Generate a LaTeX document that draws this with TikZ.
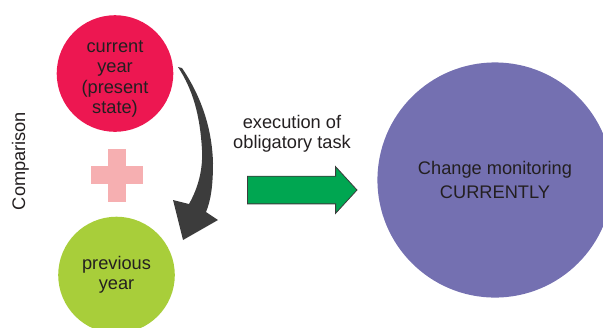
\documentclass[tikz,border=0pt]{standalone}
\usepackage{fontspec}
\setmainfont{Liberation Sans}
\usetikzlibrary{shapes.arrows}
\definecolor{curred}{HTML}{ED1751}
\definecolor{prevgreen}{HTML}{A8CE3A}
\definecolor{monviolet}{HTML}{7470B1}
\definecolor{crosspink}{HTML}{F6AFB1}
\definecolor{taskgreen}{HTML}{00A651}
\definecolor{darkgrey}{HTML}{3C3C3C}
\definecolor{txtgrey}{HTML}{231F20}
\tikzset{
	ball/.style={circle, inner sep=0pt},
	txt/.style={align=center, text=txtgrey, font=\fontsize{18.3}{20.5}\selectfont},
}

\begin{document}
\begin{tikzpicture}[x=1bp, y=-1bp]
		%%%%% START %%%%%
		\useasboundingbox (0, 0) rectangle (603, 327);
		\clip (0, 0) rectangle (603, 327);
		
		\node[ball, fill=curred, minimum size=117] (cur) at (115, 73.5) {};
		\node[txt] (curtxt) at (115, 79) {current\\year\\(present\\state)};
		
		\node[ball, fill=prevgreen, minimum size=117, txt] (prev) at (116.5, 275) {previous\\year};
		
		\node[ball, fill=monviolet, minimum size=236, txt, font=\fontsize{18.3}{25}\selectfont] (mon) at (495, 180) {Change monitoring\\CURRENTLY};
		
		\node[txt, rotate=90] (cmp) at (20.5, 161) {Comparison};
		
		% plus sign between the two years
		\fill[crosspink] (108, 149) rectangle (126, 202);
		\fill[crosspink] (91, 166) rectangle (143, 184);
		
		% curved arrow from current to previous year
		\fill[darkgrey] (178, 67) -- (182, 68)
			.. controls (199, 93) and (212, 125) .. (213, 163)
			.. controls (213, 185) and (211, 200) .. (206, 212)
			-- (218, 220) -- (183, 240) -- (173, 200) -- (189, 204)
			.. controls (198, 188) and (203, 170) .. (202, 150)
			.. controls (200, 115) and (193, 90) .. (178, 67) -- cycle;
		
		\node[txt] (task) at (292, 134) {execution of\\obligatory task};
		\node[single arrow, fill=taskgreen, draw=darkgrey, line width=0.8,
			minimum height=110, single arrow head extend=9.5,
			single arrow tip angle=95, inner xsep=0pt, inner ysep=13.5,
			anchor=tail] (go) at (247, 190) {};
		
		%%%%% END %%%%%
	\end{tikzpicture}
\end{document}
